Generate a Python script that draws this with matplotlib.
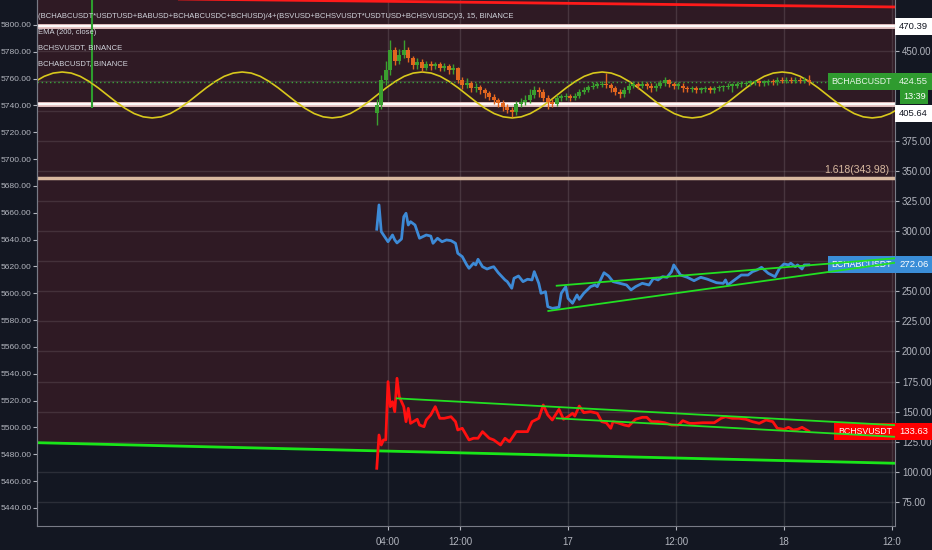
import matplotlib.pyplot as plt
import numpy as np

# time axis in hours, 0 = 16 Nov 00:00
tick_hours = [4, 12, 24, 36, 48, 60]
tick_labels = ['04:00', '12:00', '17', '12:00', '18', '12:0']

# composite index, 30 min candles starting 02:45
bar_start = 2.75
bar_step = 0.5
first_open = 398.0
closes = [405, 426, 434, 451, 442, 447, 451, 444, 438, 441, 436, 439, 437.5, 439, 436, 437.5,
          434, 436, 426, 421.7, 423.4, 419, 420, 417.6, 415, 411.7, 409, 406.7, 403.4, 401, 399,
          406, 407.6, 409, 413.4, 417.6, 416, 411, 407.6, 406, 411, 411.7, 412.5, 411, 412.5, 416,
          417.6, 420, 421, 421.7, 422.5, 421.7, 419, 416, 414, 417.6, 421, 422.5, 421, 422.5, 421,
          419, 421, 423.4, 426, 422.5, 421, 421, 419, 418.4, 419, 417.6, 418.4, 419, 417.6, 419,
          420, 420, 421, 421, 422.5, 422.5, 423.4, 424.2, 424.2, 423.4, 424.2, 425, 424.2, 426,
          425, 426, 425, 426, 425, 426, 424.55]
highs = [410, 430, 442, 459, 453, 452, 459, 453, 446, 444, 443, 442, 442, 441, 441, 440,
         439, 439, 437, 428, 427.5, 425, 423, 422, 419, 417, 414, 411, 409, 406, 403,
         408, 411, 413, 418, 421, 420, 418, 413, 410, 413, 414, 415, 414, 415, 418,
         420, 422, 424, 424, 425, 431.7, 423, 421, 418, 420, 423, 425, 424, 425, 424,
         423, 423, 426, 428.4, 427, 424, 424, 423, 421, 421, 421, 420, 421, 421, 421,
         422, 422, 423, 423, 424, 425, 425, 426, 426, 426, 426, 427, 427, 428,
         428, 428, 428, 428, 428, 428, 430]
lows = [388, 402, 422, 430, 438, 439, 444, 441, 435, 435, 433, 434, 434, 435, 433, 433,
        431, 431, 423, 418, 419, 416, 416, 414, 411, 409, 406, 403, 400, 398, 395,
        397, 403, 405, 407, 411, 412, 408, 402, 403, 404, 408, 409, 408, 409, 411,
        414, 416, 418, 419, 420, 419, 416, 413, 411, 412, 415, 419, 418, 419, 418,
        416, 417, 419, 421, 420, 418, 418, 416, 416, 416, 415, 415, 416, 415, 415,
        417, 417, 418, 416, 419, 420, 421, 421, 422, 421, 421, 422, 422, 422,
        423, 423, 423, 423, 423, 423, 422]

# BCHABCUSDT, BINANCE
abc_t = [2.75, 3.0, 3.25, 4.0, 4.5, 4.75, 5.0, 5.5, 5.75, 6.0, 6.25, 6.5, 7.0, 7.5, 8.25, 8.75,
         9.0, 9.5, 10.0, 10.5, 11.0, 11.5, 11.75, 12.25, 12.75, 13.0, 13.5, 13.75, 14.0, 14.5,
         15.0, 15.5, 15.75, 16.25, 17.0, 17.25, 17.75, 18.0, 18.5, 19.0, 19.5, 20.0, 20.25,
         20.75, 21.0, 21.5, 21.75, 22.25, 23.0, 23.25, 23.75, 24.0, 24.5, 25.0, 25.25, 25.75,
         26.5, 27.0, 27.25, 28.0, 28.5, 29.0, 29.75, 30.5, 31.0, 31.5, 32.25, 33.0, 33.5, 34.0,
         34.5, 35.0, 35.5, 35.75, 36.5, 37.25, 38.0, 38.75, 39.5, 40.5, 41.25, 41.5, 41.75,
         42.5, 43.25, 44.0, 44.5, 45.0, 45.5, 46.25, 47.0, 47.5, 48.0, 48.5, 48.75, 49.25,
         49.5, 50.0, 50.25, 50.75]
abc_v = [301.7, 321.9, 299.7, 291.3, 296.9, 292.8, 290.3, 293.6, 312.1, 315.0, 305.2, 308.0,
         305.2, 294.2, 296.9, 296.0, 290.0, 294.2, 291.3, 292.8, 292.2, 290.0, 281.7, 278.9,
         272.0, 269.2, 273.4, 272.0, 276.7, 270.5, 268.6, 270.0, 270.5, 265.5, 259.5, 258.1,
         252.6, 260.9, 262.8, 258.1, 260.1, 259.5, 266.4, 256.7, 248.4, 249.7, 237.3, 235.9,
         236.8, 248.4, 253.9, 244.2, 240.1, 247.0, 243.4, 248.4, 253.9, 255.3, 253.9, 265.5,
         262.8, 258.1, 256.7, 255.3, 251.2, 253.9, 256.7, 255.3, 260.9, 259.5, 262.2, 261.7,
         266.4, 272.0, 263.6, 261.7, 258.9, 261.7, 260.1, 257.2, 256.7, 259.5, 255.3, 259.5,
         263.6, 263.6, 266.4, 267.8, 270.0, 265.0, 262.2, 269.2, 272.8, 272.0, 273.4, 270.5,
         272.0, 268.6, 272.0, 272.06]

# BCHSVUSDT, BINANCE
sv_t = [2.75, 3.0, 3.25, 3.5, 3.75, 4.0, 4.25, 4.5, 4.75, 5.0, 5.25, 5.75, 6.0, 6.25, 6.5,
        7.25, 7.5, 8.0, 8.25, 8.75, 9.25, 9.75, 10.25, 11.0, 11.5, 11.75, 12.25, 13.0, 13.5,
        14.0, 14.5, 15.25, 15.75, 16.5, 17.0, 17.5, 18.25, 19.0, 19.5, 20.0, 20.75, 21.25,
        21.75, 22.25, 23.0, 23.5, 24.0, 24.5, 24.75, 25.25, 25.75, 26.5, 27.25, 27.75, 28.25,
        28.75, 29.0, 29.5, 30.25, 30.75, 31.5, 32.25, 32.75, 33.25, 34.0, 34.75, 35.5, 36.25,
        36.75, 37.5, 38.0, 39.0, 40.25, 41.0, 41.5, 42.25, 43.0, 43.75, 44.5, 45.25, 46.0,
        46.75, 47.25, 48.0, 48.5, 49.0, 49.5, 50.0, 50.75]
sv_v = [102.8, 130.5, 122.2, 126.4, 126.4, 174.9, 154.1, 158.2, 149.9, 177.7, 162.4, 154.1,
        141.6, 152.7, 140.2, 143.6, 138.8, 137.4, 143.0, 147.2, 154.1, 144.4, 144.4, 145.7,
        141.6, 134.7, 136.1, 126.4, 127.8, 127.8, 133.3, 127.8, 126.4, 122.2, 127.8, 124.9,
        133.3, 133.3, 133.3, 141.6, 144.4, 155.5, 147.2, 143.0, 151.9, 143.6, 145.7, 148.6,
        146.3, 154.6, 149.1, 149.9, 148.6, 141.6, 140.7, 136.1, 141.6, 140.7, 138.8, 138.0,
        143.6, 145.2, 145.2, 141.6, 141.6, 140.7, 138.8, 138.8, 142.4, 140.2, 140.2, 140.7,
        140.7, 144.4, 145.7, 144.4, 144.4, 143.6, 141.6, 140.2, 143.0, 141.6, 136.1, 135.2,
        136.9, 134.7, 135.2, 136.9, 133.63]

# yellow "EMA (200, close)" curve, hourly from -37.2 h
wave_start = -37.2
wave = [413.4, 419.3, 424.6, 428.9, 431.6, 432.5, 431.6, 428.9, 424.6, 419.3,
        413.4, 407.5, 402.2, 397.9, 395.2, 394.3, 395.2, 397.9, 402.2, 407.5,
        413.4, 419.3, 424.6, 428.9, 431.6, 432.5, 431.6, 428.9, 424.6, 419.3,
        413.4, 407.5, 402.2, 397.9, 395.2, 394.3, 395.2, 397.9, 402.2, 407.5,
        413.4, 419.3, 424.6, 428.9, 431.6, 432.5, 431.6, 428.9, 424.6, 419.3,
        413.4, 407.5, 402.2, 397.9, 395.2, 394.3, 395.2, 397.9, 402.2, 407.5,
        413.4, 419.3, 424.6, 428.9, 431.6, 432.5, 431.6, 428.9, 424.6, 419.3,
        413.4, 407.5, 402.2, 397.9, 395.2, 394.3, 395.2, 397.9, 402.2, 407.5,
        413.4, 419.3, 424.6, 428.9, 431.6, 432.5, 431.6, 428.9, 424.6, 419.3,
        413.4, 407.5, 402.2, 397.9, 395.2, 394.3, 395.2, 397.9, 402.2, 407.5,
        413.4]

# drawings
res_t, res_v = [-20.0, 60.3], [493.3, 486.6]
sup_t, sup_v = [-35.0, 60.3], [124.1, 107.0]
abc_up_t, abc_up_v = [22.74, 60.3], [254.7, 277.5]
abc_lo_t, abc_lo_v = [21.81, 60.3], [233.7, 273.8]
sv_up_t, sv_up_v = [4.97, 60.3], [161.0, 138.7]
sv_lo_t, sv_lo_v = [22.74, 60.3], [144.4, 129.0]
h_levels = [470.39, 405.64]
fib_level = 343.98
marker_t = -28.9
marker_low = 402.6
last_price = 424.55
countdown = '13:39'

right_ticks = np.arange(75, 451, 25)
hidden_right = [275, 400, 425]  # covered by the price tags
left_ticks = np.arange(5440, 5801, 20)

BG = '#131722'
FILL = '#2f1a24'
TXT = '#b2b5be'
plt.rcParams['font.family'] = ['Liberation Sans', 'DejaVu Sans']

fig = plt.figure(figsize=(9.32, 5.5), dpi=100, facecolor=BG)
ax = fig.add_axes([37 / 932, 24 / 550, 858 / 932, 526 / 550])
ax2 = ax.twinx()
ax.set_facecolor(BG)
ax.set_xlim(-35, 60.33)
ax.set_ylim(54.8, 492.4)

# channel fill
ax.fill_between(sup_t, sup_v, 500, color=FILL, zorder=0, lw=0)

# grid
for h in tick_hours:
    ax.axvline(h, color='white', alpha=0.12, lw=1, zorder=1)
for v in right_ticks:
    ax.axhline(v, color='white', alpha=0.1, lw=1, zorder=1)

# levels
for lv in h_levels:
    ax.axhline(lv, color='#e7c4c4', lw=3.5, zorder=2)
    ax.axhline(lv, color='#ffffff', lw=1.3, zorder=2)
ax.axhline(fib_level, color='#d9b9a0', lw=2.5, zorder=2)
ax.text(1 - 6 / 858, fib_level + 2.5, '1.618(343.98)', transform=ax.get_yaxis_transform(),
        ha='right', va='bottom', color='#d9b9a0', fontsize=7.5, zorder=5)

ax.plot(res_t, res_v, color='#ff1a1a', lw=2, zorder=3)
ax.plot(sup_t, sup_v, color='#19e619', lw=2, zorder=3)
ax.vlines(marker_t, marker_low, 500, color='#2e9d2e', lw=1.5, zorder=3)

# wave
wave_t = wave_start + np.arange(len(wave))
ax.plot(wave_t, wave, color='#d8c81c', lw=1.2, zorder=3)

# last price dotted
ax.axhline(last_price, color='#3aa53a', ls=(0, (1, 2)), lw=1, zorder=3)

# candles
bar_t = bar_start + bar_step * np.arange(len(closes))
opens = [first_open] + closes[:-1]
for t, o, c, hi, lo in zip(bar_t, opens, closes, highs, lows):
    col = '#3a9f2f' if c >= o else '#e2661f'
    ax.vlines(t, lo, hi, color=col, lw=1, zorder=4)
    ax.bar(t, max(abs(c - o), 1.2), bottom=min(o, c), width=0.4, color=col, lw=0, zorder=4)

# overlays
ax.plot(abc_t, abc_v, color='#3d8ad6', lw=2, zorder=4)
ax.plot(sv_t, sv_v, color='#ff1010', lw=2, zorder=4)

# price labels
ytr = ax.get_yaxis_transform()
def tag(y, name, value, color, tcolor='white'):
    if name:
        ax.text(1 - 3 / 858, y, name, transform=ytr, ha='right', va='center', fontsize=6.3,
                color=tcolor, zorder=6, bbox=dict(boxstyle='square,pad=0.45', fc=color, ec='none'))
    ax.text(1 + 4 / 858, y, value, transform=ytr, ha='left', va='center', fontsize=6.8,
            color=tcolor, zorder=7, clip_on=False,
            bbox=dict(boxstyle='square,pad=0.42', fc=color, ec='none'))

tag(last_price, 'BCHABCUSDT', '424.55', '#2f9b2f', '#e8f5e8')
ax.text(1 + 8 / 858, 412.0, countdown, transform=ytr, ha='left', va='center', fontsize=6.6,
        color='white', zorder=7, clip_on=False,
        bbox=dict(boxstyle='square,pad=0.3', fc='#2f9b2f', ec='none'))
tag(h_levels[0], None, '470.39', 'white', '#131722')
# the 405.64 tag is pushed below its line by the countdown box
tag(398.0, None, '405.64', 'white', '#131722')
tag(abc_v[-1], 'BCHABCUSDT', '272.06', '#3a8ed8')
tag(sv_v[-1], 'BCHSVUSDT', '133.63', '#ff0000')

# channels drawn over the tags
for tt, vv in [(abc_up_t, abc_up_v), (abc_lo_t, abc_lo_v), (sv_up_t, sv_up_v), (sv_lo_t, sv_lo_v)]:
    ax.plot(tt, vv, color='#22e022', lw=1.3, zorder=6)

# axes
ax.yaxis.tick_right()
ax.set_yticks(right_ticks)
ax.set_yticklabels(['' if v in hidden_right else '%.2f' % v for v in right_ticks])
ax.set_xticks(tick_hours)
ax.set_xticklabels(tick_labels)
ax.tick_params(colors=TXT, labelsize=7, length=3, width=0.8, pad=2)
ax.tick_params(axis='x', pad=5)
ax.spines['top'].set_visible(False)
for s in ['left', 'bottom', 'right']:
    ax.spines[s].set_color('#787b86')

ax2.set_ylim(5426.5, 5818.6)
ax2.yaxis.tick_left()
ax2.set_yticks(left_ticks)
ax2.set_yticklabels(['%.2f' % v for v in left_ticks])
ax2.tick_params(colors=TXT, labelsize=6.1, length=3, width=0.8, pad=1)
for s in ['top', 'right', 'bottom']:
    ax2.spines[s].set_visible(False)
ax2.spines['left'].set_color('#787b86')

# legend texts
legend_lines = ['(BCHABCUSDT*USDTUSD+BABUSD+BCHABCUSDC+BCHUSD)/4+(BSVUSD+BCHSVUSDT*USDTUSD+BCHSVUSDC)/3, 15, BINANCE',
                'EMA (200, close)', 'BCHSVUSDT, BINANCE', 'BCHABCUSDT, BINANCE']
for i, s in enumerate(legend_lines):
    fig.text(38 / 932, 1 - (16 + 16 * i) / 550, s, color='#d1d4dc', fontsize=5.5, va='center', ha='left')

fig.savefig('out.png', dpi=100, facecolor=BG)
